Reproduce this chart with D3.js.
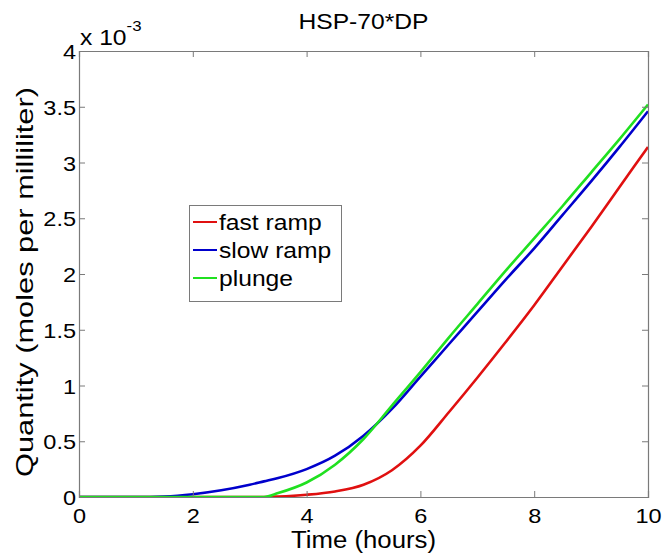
<!DOCTYPE html>
<html>
<head>
<meta charset="utf-8">
<script src="https://cdn.jsdelivr.net/npm/d3@7"></script>
<style>
  body { margin: 0; background: #fff; }
  text { font-family: "Liberation Sans", Arial, sans-serif; fill: #000; }
</style>
</head>
<body>
<script>
// values (quantity in units of 1e-3 moles/ml)
var hours    = [0, 0.5, 1, 1.5, 2, 2.5, 3, 3.25, 3.5, 4, 4.5, 5, 5.5, 6, 6.5, 7, 7.5, 8, 8.5, 9, 9.5, 10];
var fastRamp = [0, 0, 0, 0, 0, 0, 0, 0, 0.004, 0.02, 0.05, 0.11, 0.24, 0.46, 0.76, 1.07, 1.39, 1.72, 2.07, 2.42, 2.78, 3.14];
var slowRamp = [0, 0, 0, 0.005, 0.025, 0.06, 0.11, 0.14, 0.17, 0.25, 0.37, 0.55, 0.79, 1.08, 1.37, 1.66, 1.95, 2.23, 2.53, 2.83, 3.14, 3.46];
var plunge   = [0, 0, 0, 0, 0, 0, 0, 0, 0.035, 0.13, 0.29, 0.52, 0.82, 1.12, 1.43, 1.73, 2.03, 2.32, 2.61, 2.91, 3.21, 3.52];
var seriesNames  = ["fast ramp", "slow ramp", "plunge"];
var seriesColors = ["#e01010", "#0000cc", "#20e020"];
var xTicks = [0, 2, 4, 6, 8, 10];
var yTicks = [0, 0.5, 1, 1.5, 2, 2.5, 3, 3.5, 4];

var W = 664, H = 555;
var plot = {x0: 79, x1: 648, y0: 51, y1: 497};
var stretch = 1.12; // source glyphs are a bit wider than Arial

var svg = d3.select("body").append("svg")
    .attr("width", W)
    .attr("height", H);

var x = d3.scaleLinear().domain([0, 10]).range([plot.x0, plot.x1]);
var y = d3.scaleLinear().domain([0, 4]).range([plot.y1, plot.y0]);

svg.append("clipPath").attr("id", "plotclip")
  .append("rect")
    .attr("x", plot.x0).attr("y", plot.y0)
    .attr("width", plot.x1 - plot.x0).attr("height", plot.y1 - plot.y0);

// lines
var data = [fastRamp, slowRamp, plunge].map(function(vals, i) {
    return {
        name: seriesNames[i],
        color: seriesColors[i],
        values: hours.map(function(h, j) { return {h: h, v: vals[j]}; })
    };
});

var line = d3.line()
    .curve(d3.curveMonotoneX)
    .x(function(d) { return x(d.h); })
    .y(function(d) { return y(d.v); });

svg.append("g").attr("clip-path", "url(#plotclip)")
  .selectAll("path")
  .data(data)
  .enter().append("path")
    .attr("fill", "none")
    .attr("stroke", function(d) { return d.color; })
    .attr("stroke-width", 2.6)
    .attr("d", function(d) { return line(d.values); });

// axes box with inward ticks
var axisColor = "#7a7a7a";
var xAxis = d3.axisBottom(x).tickValues(xTicks).tickSize(-6).tickPadding(11).tickFormat(d3.format("d"));
var yAxis = d3.axisLeft(y).tickValues(yTicks).tickSize(-6).tickPadding(3).tickFormat(function(d) { return d; });

var gx = svg.append("g").attr("transform", "translate(0," + plot.y1 + ")").call(xAxis);
var gy = svg.append("g").attr("transform", "translate(" + plot.x0 + ",0)").call(yAxis);
var gxTop = svg.append("g").attr("transform", "translate(0," + plot.y0 + ")")
    .call(d3.axisTop(x).tickValues(xTicks).tickSize(-6).tickFormat(""));
var gyRight = svg.append("g").attr("transform", "translate(" + plot.x1 + ",0)")
    .call(d3.axisRight(y).tickValues(yTicks).tickSize(-6).tickFormat(""));

[gx, gy, gxTop, gyRight].forEach(function(g) {
    g.select(".domain").attr("stroke", axisColor).attr("stroke-width", 1.2);
    g.selectAll(".tick line").attr("stroke", axisColor);
    g.selectAll(".tick text")
        .style("font-family", "'Liberation Sans', Arial, sans-serif")
        .style("font-size", "21px")
        .attr("fill", "#000");
});
gx.selectAll(".tick text").attr("dy", "0.71em");
gy.selectAll(".tick text").attr("dy", "0.36em");

// title
svg.append("text")
    .attr("class", "st")
    .attr("x", (plot.x0 + plot.x1) / 2)
    .attr("y", 29)
    .attr("text-anchor", "middle")
    .style("font-size", "22px")
    .text("HSP-70*DP");

// x axis label
svg.append("text")
    .attr("class", "st")
    .attr("x", (plot.x0 + plot.x1) / 2)
    .attr("y", 548)
    .attr("text-anchor", "middle")
    .style("font-size", "23px")
    .text("Time (hours)");

// y axis label
svg.append("text")
    .attr("transform", "translate(33,282) rotate(-90)")
    .attr("text-anchor", "middle")
    .attr("textLength", 390)
    .attr("lengthAdjust", "spacingAndGlyphs")
    .style("font-size", "24px")
    .text("Quantity (moles per milliliter)");

// exponent note
var expo = svg.append("text")
    .attr("class", "st")
    .attr("x", plot.x0 + 1)
    .attr("y", 45)
    .style("font-size", "22px");
expo.append("tspan").text("x 10");
expo.append("tspan")
    .attr("dy", -14)
    .style("font-size", "15px")
    .text("-3");

// legend
var legend = svg.append("g");
legend.append("rect")
    .attr("x", 189.5).attr("y", 205.5)
    .attr("width", 152).attr("height", 96)
    .attr("fill", "#fff")
    .attr("stroke", axisColor);

var rows = legend.selectAll("g.row")
    .data(data)
    .enter().append("g")
    .attr("class", "row")
    .attr("transform", function(d, i) { return "translate(0," + (222 + i * 28) + ")"; });

rows.append("line")
    .attr("x1", 193).attr("x2", 217)
    .attr("stroke", function(d) { return d.color; })
    .attr("stroke-width", 2);

rows.append("text")
    .attr("class", "st")
    .attr("x", 219)
    .attr("dy", "0.36em")
    .style("font-size", "22px")
    .text(function(d) { return d.name; });

// widen glyphs a little to match the source
svg.selectAll("text.st, .tick text").each(function() {
    var len = this.getComputedTextLength();
    if (len > 0) {
        d3.select(this)
            .attr("textLength", len * stretch)
            .attr("lengthAdjust", "spacingAndGlyphs");
    }
});
</script>
</body>
</html>
